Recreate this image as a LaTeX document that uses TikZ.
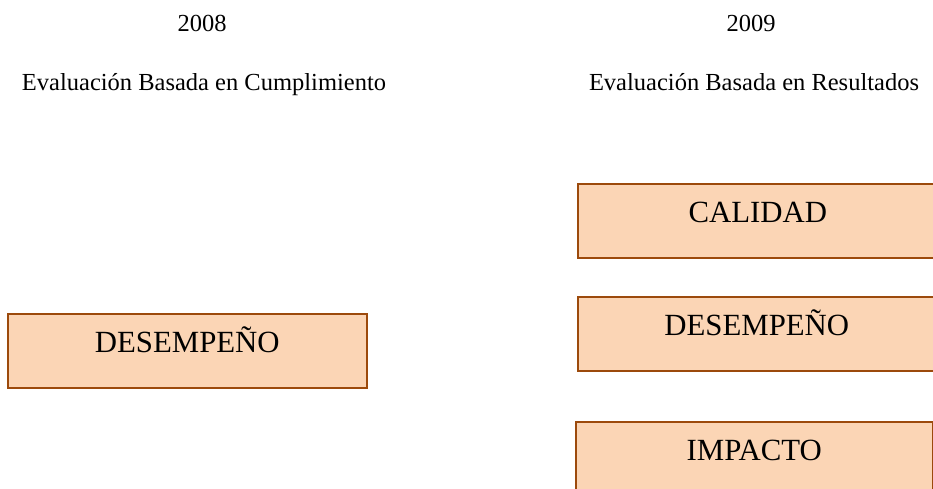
\documentclass[tikz,border=0pt]{standalone}
\usepackage{fontspec}
\setmainfont{Liberation Serif}
\definecolor{boxfill}{HTML}{FBD5B5}
\definecolor{boxline}{HTML}{9C4A0C}
\tikzset{
  head/.style={anchor=base, inner sep=0pt, font=\fontsize{24.5}{28}\selectfont},
  peach/.style={anchor=north west, draw=boxline, fill=boxfill, line width=1.6pt,
    inner sep=0pt, minimum width=359pt, text height=39pt, text depth=35pt,
    font=\fontsize{30.8}{34}\selectfont}
}
\begin{document}
\begin{tikzpicture}[x=1pt,y=-1pt]
\useasboundingbox (0,0) rectangle (933,488);
\clip (0,0) rectangle (933,488);
\node[head] (y1) at (202,31.5) {2008};
\node[head] (y2) at (751,31.5) {2009};
\node[head] (h1) at (204,90) {Evaluación Basada en Cumplimiento};
\node[head] (h2) at (754,90) {Evaluación Basada en Resultados};
\node[peach] (d1) at (7,313) {DESEMPEÑO};
\node[peach, minimum width=360pt] (c2) at (577,183) {CALIDAD};
\node[peach, minimum width=358pt] (d2) at (577,296) {DESEMPEÑO};
\node[peach, minimum width=357pt] (i2) at (575,421) {IMPACTO};
\end{tikzpicture}
\end{document}
